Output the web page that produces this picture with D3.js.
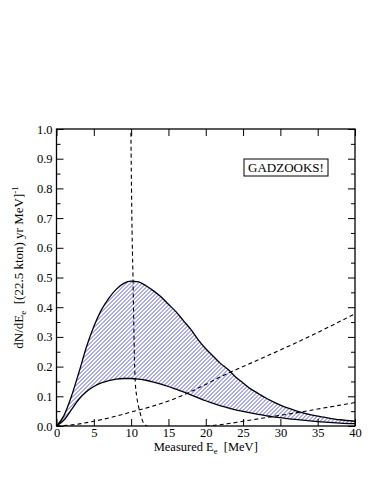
<!DOCTYPE html>
<html>
<head>
<meta charset="utf-8">
<script src="https://cdn.jsdelivr.net/npm/d3@7"></script>
<style>
  body { margin: 0; background: #fff; }
  svg { display: block; }
  svg text { font-family: "Times New Roman", Times, "Liberation Serif", "DejaVu Serif", serif; }
</style>
</head>
<body>
<svg width="374" height="484"></svg>
<script>
// Data
var energy = [0, 1, 2, 3, 4, 5, 6, 7, 8, 9, 10, 11, 12, 13, 14, 15, 16, 17, 18, 19, 20,
  21, 22, 23, 24, 25, 26, 27, 28, 29, 30, 32, 34, 36, 38, 40];
var upperBand = [0, 0.035, 0.1, 0.18, 0.265, 0.335, 0.39, 0.43, 0.46, 0.48, 0.488, 0.485,
  0.472, 0.455, 0.435, 0.41, 0.385, 0.355, 0.325, 0.29, 0.26, 0.235, 0.21, 0.19, 0.165,
  0.145, 0.125, 0.11, 0.095, 0.082, 0.07, 0.052, 0.038, 0.029, 0.021, 0.016];
var lowerBand = [0, 0.02, 0.055, 0.09, 0.115, 0.133, 0.145, 0.153, 0.158, 0.16, 0.16, 0.158,
  0.154, 0.148, 0.141, 0.133, 0.124, 0.115, 0.105, 0.095, 0.085, 0.076, 0.068, 0.061, 0.054,
  0.049, 0.044, 0.039, 0.035, 0.031, 0.028, 0.022, 0.017, 0.013, 0.01, 0.008];

var reactorE = [9.9, 9.95, 10.05, 10.15, 10.25, 10.35, 10.45, 10.55, 10.75, 11.0, 11.3, 11.6, 11.9, 12.2];
var reactorN = [1.2, 1.05, 0.8, 0.62, 0.5, 0.35, 0.22, 0.15, 0.1, 0.065, 0.035, 0.013, 0.003, 0];

var atmE = [0, 2.5, 5, 7.5, 10, 12.5, 15, 17.5, 20, 22.5, 25, 27.5, 30, 32.5, 35, 37.5, 40];
var atmN = [0, 0.005, 0.016, 0.03, 0.047, 0.064, 0.084, 0.11, 0.14, 0.172, 0.2, 0.228, 0.256,
  0.285, 0.315, 0.346, 0.378];

var muE = [20, 22.5, 25, 27.5, 30, 32.5, 35, 37.5, 40];
var muN = [0, 0.006, 0.016, 0.026, 0.036, 0.046, 0.057, 0.068, 0.079];

var xTicks = [0, 5, 10, 15, 20, 25, 30, 35, 40];
var yTicks = [0, 0.1, 0.2, 0.3, 0.4, 0.5, 0.6, 0.7, 0.8, 0.9, 1.0];
var yMinor = [0.05, 0.15, 0.25, 0.35, 0.45, 0.55, 0.65, 0.75, 0.85, 0.95];

// Layout
var margin = { left: 56.5, right: 19, top: 129, bottom: 58 };
var width = 374 - margin.left - margin.right;
var height = 484 - margin.top - margin.bottom;

var svg = d3.select('svg');
var g = svg.append('g')
  .attr('transform', 'translate(' + margin.left + ',' + margin.top + ')');

var x = d3.scaleLinear().domain([0, 40]).range([0, width]);
var y = d3.scaleLinear().domain([0, 1]).range([height, 0]);

// hatch pattern
var defs = svg.append('defs');
var pat = defs.append('pattern')
  .attr('id', 'hatch')
  .attr('patternUnits', 'userSpaceOnUse')
  .attr('width', 4)
  .attr('height', 4);
pat.append('path')
  .attr('d', 'M-1,1 l2,-2 M0,4 l4,-4 M3,5 l2,-2')
  .attr('stroke', '#2a2aff')
  .attr('stroke-width', 0.8);

defs.append('clipPath').attr('id', 'plotClip')
  .append('rect').attr('width', width).attr('height', height);

var band = energy.map(function (e, i) {
  return { e: e, lo: lowerBand[i], hi: upperBand[i] };
});

var plot = g.append('g').attr('clip-path', 'url(#plotClip)');

plot.append('path')
  .datum(band)
  .attr('fill', 'url(#hatch)')
  .attr('d', d3.area()
    .curve(d3.curveMonotoneX)
    .x(function (d) { return x(d.e) })
    .y0(function (d) { return y(d.lo) })
    .y1(function (d) { return y(d.hi) }));

var solid = d3.line()
  .curve(d3.curveMonotoneX)
  .x(function (d) { return x(d[0]) })
  .y(function (d) { return y(d[1]) });

[upperBand, lowerBand].forEach(function (vals) {
  plot.append('path')
    .datum(d3.zip(energy, vals))
    .attr('fill', 'none')
    .attr('stroke', '#000')
    .attr('stroke-width', 1.3)
    .attr('d', solid);
});

[[reactorE, reactorN], [atmE, atmN], [muE, muN]].forEach(function (s) {
  plot.append('path')
    .datum(d3.zip(s[0], s[1]))
    .attr('fill', 'none')
    .attr('stroke', '#000')
    .attr('stroke-width', 1.1)
    .attr('stroke-dasharray', '4,3')
    .attr('d', solid);
});

// axes with inward ticks
function styleAxis(sel) {
  sel.attr('font-family', null);
  sel.select('.domain').remove();
  sel.selectAll('line').attr('stroke', '#000').attr('stroke-width', 1);
  sel.selectAll('text').attr('font-size', 12.5).attr('fill', '#000');
}

g.append('g').attr('transform', 'translate(0,' + height + ')')
  .call(d3.axisBottom(x).tickValues(xTicks).tickSize(-7).tickPadding(2)
    .tickFormat(d3.format('d')))
  .call(styleAxis);
g.append('g')
  .call(d3.axisTop(x).tickValues(xTicks).tickSize(-7).tickFormat(''))
  .call(styleAxis);
g.append('g')
  .call(d3.axisLeft(y).tickValues(yTicks).tickSize(-7).tickPadding(4)
    .tickFormat(d3.format('.1f')))
  .call(styleAxis);
g.append('g')
  .call(d3.axisLeft(y).tickValues(yMinor).tickSize(-4).tickFormat(''))
  .call(styleAxis);
g.append('g').attr('transform', 'translate(' + width + ',0)')
  .call(d3.axisRight(y).tickValues(yTicks).tickSize(-7).tickFormat(''))
  .call(styleAxis);
g.append('g').attr('transform', 'translate(' + width + ',0)')
  .call(d3.axisRight(y).tickValues(yMinor).tickSize(-4).tickFormat(''))
  .call(styleAxis);

// frame
g.append('rect')
  .attr('width', width).attr('height', height)
  .attr('fill', 'none').attr('stroke', '#000').attr('stroke-width', 1.3);

// axis titles
var xt = g.append('text')
  .attr('x', width / 2).attr('y', height + 25)
  .attr('text-anchor', 'middle').attr('font-size', 12.5)
  .attr('xml:space', 'preserve');
xt.append('tspan').text('Measured E');
xt.append('tspan').attr('font-size', 8.5).attr('dy', 3).text('e');
xt.append('tspan').attr('dy', -3).text('  [MeV]');

var yt = g.append('text')
  .attr('transform', 'translate(-34,' + (height / 2 - 10) + ') rotate(-90)')
  .attr('text-anchor', 'middle').attr('font-size', 13)
  .attr('xml:space', 'preserve');
yt.append('tspan').text('dN/dE');
yt.append('tspan').attr('font-size', 9).attr('dy', 3).text('e');
yt.append('tspan').attr('dy', -3).text('  [(22.5 kton) yr MeV]');
yt.append('tspan').attr('font-size', 9).attr('dy', -5).text('-1');

// GADZOOKS! label box
var lab = g.append('g').attr('transform', 'translate(' + (width - 111) + ',30)');
lab.append('rect')
  .attr('width', 84).attr('height', 17)
  .attr('fill', '#fff').attr('stroke', '#000').attr('stroke-width', 1);
lab.append('text')
  .attr('x', 42).attr('y', 13)
  .attr('text-anchor', 'middle').attr('font-size', 13)
  .text('GADZOOKS!');
</script>
</body>
</html>
